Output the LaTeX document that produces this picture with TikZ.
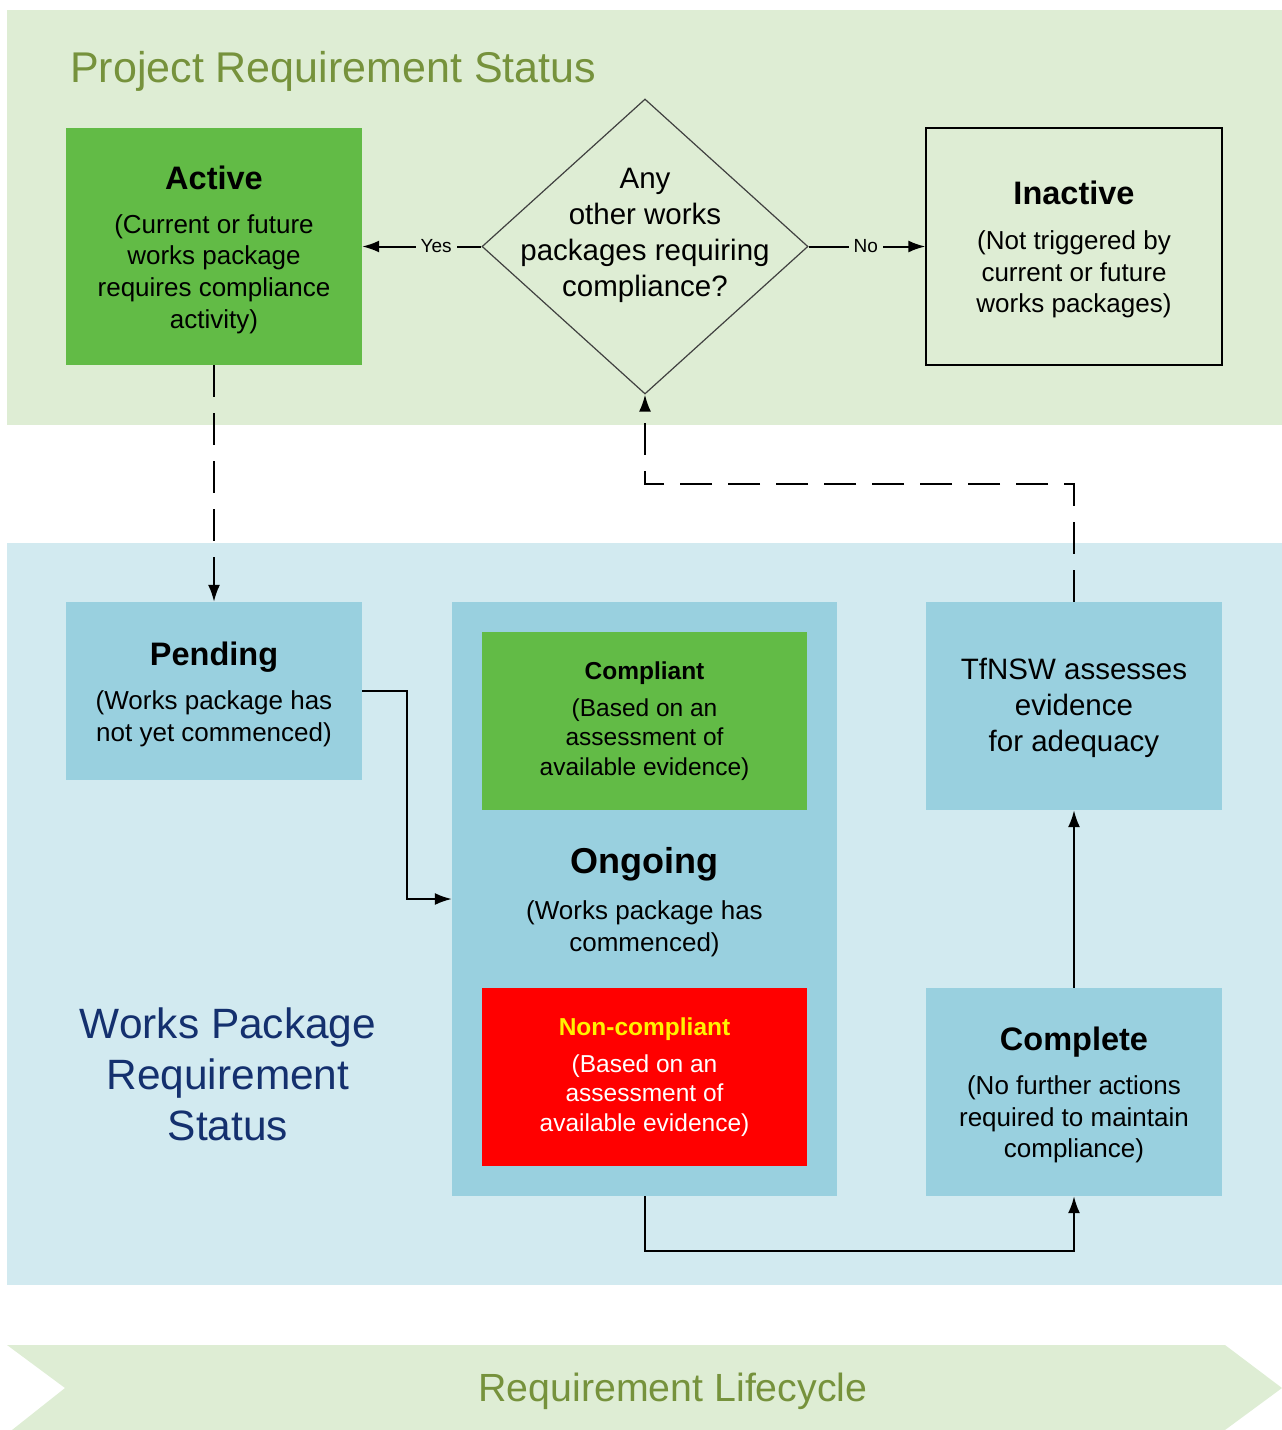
\documentclass[tikz,border=0pt]{standalone}
\usepackage{fontspec}
\setmainfont{Liberation Sans}
\usetikzlibrary{arrows.meta,shapes.geometric}
\definecolor{panelgreen}{HTML}{DEEDD4}
\definecolor{panelblue}{HTML}{D2EAF0}
\definecolor{boxblue}{HTML}{99D0DF}
\definecolor{boxgreen}{HTML}{62BB46}
\definecolor{olive}{HTML}{76923C}
\definecolor{navy}{HTML}{14306E}
\newcommand\ttlfont{\fontsize{32.5}{38}\selectfont\bfseries\rule{0pt}{30pt}}
\newcommand\smttl{\fontsize{24.5}{30}\selectfont\bfseries}
\tikzset{
  stbox/.style={rectangle, inner sep=0pt, align=center, minimum width=296pt},
  bodyfont/.style={font=\fontsize{26}{31.7}\selectfont},
  smallfont/.style={font=\fontsize{24.5}{29.6}\selectfont},
  arr/.style={line width=2pt, -{Latex[length=17pt,width=12pt]}},
  darr/.style={arr, dash pattern=on 32pt off 16pt},
  lbl/.style={fill=panelgreen, inner sep=5pt, font=\fontsize{19}{22}\selectfont},
}
\begin{document}
\begin{tikzpicture}[x=1pt,y=-1pt]
\useasboundingbox (0,0) rectangle (1282,1430);
% panels
\fill[panelgreen] (7,10) rectangle (1282,425);
\fill[panelblue] (7,543) rectangle (1282,1285);
\fill[panelgreen] (7,1345) -- (1225,1345) -- (1282,1388) -- (1225,1430) -- (12,1430) -- (65,1388) -- cycle;
% titles
\node[anchor=base west, text=olive, font=\fontsize{43}{50}\selectfont, inner sep=0pt] (ptitle) at (70,82) {Project Requirement Status};
\node[text=olive, font=\fontsize{39.3}{46}\selectfont, inner sep=0pt] (life) at (673,1391) {Requirement Lifecycle};
\node[text=navy, align=center, font=\fontsize{42.4}{51}\selectfont, inner sep=0pt] (wtitle) at (228,1074) {Works Package\\Requirement\\Status};
% top row
\node[stbox, bodyfont, fill=boxgreen, minimum height=237pt] (active) at (214,246.5)
  {{\ttlfont Active}\\[12pt](Current or future\\works package\\requires compliance\\activity)};
\node[stbox, bodyfont, draw=black, line width=1.3pt, minimum width=296pt, minimum height=237pt] (inactive) at (1074,246.5)
  {{\ttlfont Inactive}\\[13pt](Not triggered by\\current or future\\works packages)};
\node[diamond, draw=black!75, line width=1.2pt, inner sep=0pt, minimum width=326pt, minimum height=295pt] (q) at (645,246.5) {};
\node[align=center, font=\fontsize{29.5}{36}\selectfont, inner sep=0pt] (qt) at (645,235) {Any\\other works\\packages requiring\\compliance?};
% bottom
\node[stbox, bodyfont, fill=boxblue, minimum height=178pt] (pending) at (214,691)
  {{\ttlfont Pending}\\[12pt](Works package has\\not yet commenced)};
\node[rectangle, inner sep=0pt, fill=boxblue, minimum width=385pt, minimum height=594pt] (ongoing) at (644.5,899) {};
\node[stbox, smallfont, fill=boxgreen, minimum width=325pt, minimum height=178pt] (compliant) at (644.5,721)
  {{\smttl Compliant}\\[7pt](Based on an\\assessment of\\available evidence)};
\node[stbox, smallfont, fill=red, text=white, minimum width=325pt, minimum height=178pt] (noncomp) at (644.5,1077)
  {{\smttl\color{yellow}Non-compliant}\\[7pt](Based on an\\assessment of\\available evidence)};
\node[align=center, bodyfont, inner sep=0pt] (ongt) at (644.5,902)
  {{\fontsize{36}{40}\selectfont\bfseries Ongoing}\\[14pt](Works package has\\commenced)};
\node[stbox, fill=boxblue, minimum height=208pt, font=\fontsize{29.5}{36}\selectfont] (tfnsw) at (1074,706)
  {\rule{0pt}{25pt}TfNSW assesses\\evidence\\for adequacy};
\node[stbox, bodyfont, fill=boxblue, minimum height=208pt] (complete) at (1074,1092)
  {{\ttlfont Complete}\\[12pt](No further actions\\required to maintain\\compliance)};
% connectors
\draw[arr] (q.west) -- node[lbl, pos=0.38] (yes) {Yes} (active.east);
\draw[arr] (q.east) -- node[lbl, pos=0.49] (no) {No} (inactive.west);
\draw[darr] (active.south) -- (pending.north);
\draw[arr] (pending.east) -- ++(45,0) |- (ongoing.west);
\draw[arr] (ongoing.south) -- ++(0,55) -| (complete.south);
\draw[arr] (complete.north) -- (tfnsw.south);
\draw[darr] (tfnsw.north) -- ++(0,-118) -| (q.south);
\end{tikzpicture}
\end{document}
